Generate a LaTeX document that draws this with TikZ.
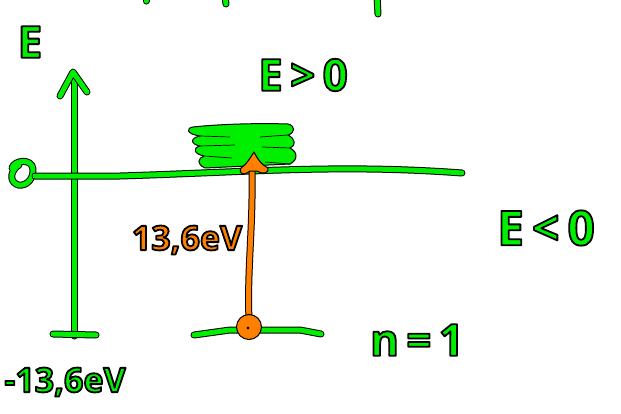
\documentclass[tikz,border=0pt]{standalone}
\usepackage{fontspec}
\setmainfont{Open Sans}
\definecolor{grn}{RGB}{0,238,0}
\definecolor{org}{RGB}{255,128,0}
\tikzset{
  gstroke/.style={draw=grn, line width=5pt, line cap=round, line join=round,
    preaction={draw=black, line width=7pt, line cap=round, line join=round}},
  ostroke/.style={draw=org, line width=5pt, line cap=round, line join=round,
    preaction={draw=black, line width=7pt, line cap=round, line join=round}},
  gtext/.style={inner sep=0pt, font=\fontsize{44}{44}\selectfont\bfseries},
}
\newcommand{\outl}[2]{\textcolor{#1}{\special{pdf:code 0 0 0 RG 1.8 w 1 j 2 Tr}#2\special{pdf:code 0 Tr}}}
\begin{document}
\begin{tikzpicture}[x=1pt,y=-1pt]
\useasboundingbox (0,0) rectangle (621,413);
% top fragments
\draw[gstroke] (146,-4) -- (146,1);
\draw[gstroke] (225,-4) -- (226,4);
\draw[gstroke] (377,-4) -- (378,14);
% energy axis
\draw[gstroke] (74,336) -- (74,78);
\draw[gstroke] (60,96) -- (73,72) -- (87,92);
\draw[gstroke] (53,334) -- (96,335);
% zero level
\draw[gstroke] (12,168) .. controls (14,160) and (32,158) .. (33,169)
  .. controls (34,182) and (22,188) .. (16,184) .. controls (9,180) and (11,170) .. (19,165);
\draw[gstroke] (35,176) -- (120,176) .. controls (250,172) and (340,164) .. (462,173);
% continuum blob
\draw[black, line width=1pt, fill=grn, line join=round]
  (193,127) .. controls (220,124) and (260,123) .. (288,124)
  .. controls (296,126) and (295,133) .. (288,135)
  .. controls (296,139) and (296,146) .. (290,148)
  .. controls (298,152) and (298,160) .. (290,164)
  -- (205,168)
  .. controls (196,164) and (198,158) .. (204,156)
  .. controls (194,154) and (192,148) .. (200,146)
  .. controls (190,144) and (190,138) .. (200,136)
  .. controls (186,134) and (186,128) .. (193,127) -- cycle;
\draw[black, line width=0.7pt] (200,136) -- (230,137) (200,146) -- (235,145)
  (204,156) -- (232,158) (290,148) -- (262,147) (288,135) -- (260,137) (290,164) -- (265,162);
% n=1 level
\draw[gstroke] (194,335) -- (230,330) -- (300,330) -- (321,334);
% orange arrow
\draw[ostroke] (249,320) .. controls (247,270) and (253,230) .. (252,172);
\draw[black, line width=1pt, fill=org, line join=round]
  (254,152) .. controls (258,160) and (262,165) .. (268,168)
  .. controls (270,173) and (262,175) .. (257,171)
  -- (250,171) .. controls (244,176) and (238,174) .. (241,168)
  .. controls (247,164) and (250,158) .. (254,152) -- cycle;
\draw[black, line width=1pt, fill=org] (249,327) circle (12.5);
\fill[black] (248,328) circle (1.6);
% labels
\node[gtext] (lE) at (30,42) {\outl{grn}{E}};
\node[gtext] (lEp) at (303,75) {\outl{grn}{E\,>\,0}};
\node[gtext, font=\fontsize{48}{48}\selectfont\bfseries] (lEm) at (546,228) {\outl{grn}{E\,<\,0}};
\node[gtext] (ln) at (417,340) {\outl{grn}{n\,=\,1}};
\node[gtext, font=\fontsize{34}{34}\selectfont\bfseries] (l13) at (65,382) {\outl{grn}{-13,6eV}};
\node[gtext, font=\fontsize{34}{34}\selectfont\bfseries] (lo) at (187,240) {\outl{org}{13,6eV}};
\end{tikzpicture}
\end{document}
